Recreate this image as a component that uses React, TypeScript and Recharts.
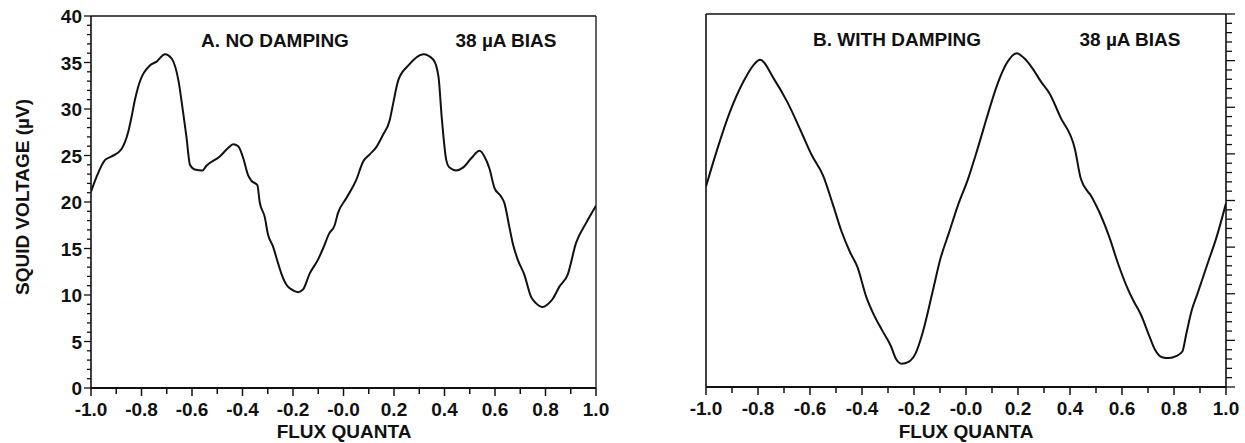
import React from 'react';
import { LineChart, Line, XAxis, YAxis, ReferenceLine } from 'recharts';

// ---- tick definitions ----
const xTicks = [-1.0, -0.9, -0.8, -0.7, -0.6, -0.5, -0.4, -0.3, -0.2, -0.1, 0.0, 0.1, 0.2, 0.3, 0.4, 0.5, 0.6, 0.7, 0.8, 0.9, 1.0];
const xTickLabels = ['-1.0', '-0.8', '-0.6', '-0.4', '-0.2', '-0.0', '0.2', '0.4', '0.6', '0.8', '1.0'];
const yTicks = Array.from({ length: 41 }, (_, i) => i);
const yTickLabels = ['0', '5', '10', '15', '20', '25', '30', '35', '40'];

// ---- panel A: no damping ----
const leftFlux = [
  -1.0, -0.978, -0.945, -0.918, -0.879, -0.852, -0.839, -0.826, -0.813, -0.766, -0.74, -0.707, -0.68, -0.654,
  -0.635, -0.622, -0.608, -0.589, -0.558, -0.543, -0.49, -0.457, -0.437, -0.417, -0.397, -0.378, -0.365, -0.341,
  -0.332, -0.312, -0.299, -0.279, -0.259, -0.246, -0.226, -0.206, -0.18, -0.16, -0.134, -0.101, -0.081, -0.057,
  -0.035, -0.022, 0.011, 0.051, 0.077, 0.103, 0.13, 0.156, 0.183, 0.196, 0.217, 0.257, 0.316, 0.356, 0.376,
  0.389, 0.396, 0.407, 0.42, 0.446, 0.473, 0.506, 0.539, 0.558, 0.578, 0.598, 0.624, 0.637, 0.657, 0.67, 0.69,
  0.716, 0.743, 0.763, 0.789, 0.809, 0.829, 0.855, 0.888, 0.921, 0.96, 1.0,
];
const leftVoltage = [
  21.1, 22.7, 24.5, 24.9, 25.7, 27.6, 29.2, 31.0, 32.4, 34.7, 35.1, 35.9, 35.4, 33.1,
  29.6, 27.0, 24.0, 23.5, 23.4, 23.9, 24.9, 25.8, 26.2, 26.0, 24.7, 22.9, 22.3, 21.8,
  20.0, 18.4, 16.5, 15.2, 13.4, 12.3, 11.1, 10.6, 10.3, 10.6, 12.3, 13.8, 15.0, 16.6,
  17.5, 18.8, 20.4, 22.4, 24.3, 25.1, 25.9, 27.2, 28.8, 30.5, 33.1, 34.7, 35.9, 35.3, 33.5,
  29.1, 27.0, 24.5, 23.7, 23.4, 23.7, 24.7, 25.5, 24.9, 23.6, 21.5, 20.6, 19.9, 17.3, 15.6, 13.8,
  12.2, 9.8, 9.1, 8.7, 9.0, 9.6, 10.9, 12.2, 15.6, 17.7, 19.6,
];

// ---- panel B: with damping ----
const rightFlux = [
  -1.0, -0.959, -0.908, -0.857, -0.818, -0.792, -0.74, -0.688, -0.628, -0.594, -0.55,
  -0.51, -0.479, -0.445, -0.418, -0.384, -0.357, -0.323, -0.289, -0.269, -0.248, -0.221, -0.194, -0.167, -0.127,
  -0.1, -0.066, -0.032, 0.009, 0.043, 0.077, 0.12, 0.154, 0.195, 0.222, 0.255, 0.287, 0.323, 0.362, 0.419,
  0.442, 0.483, 0.517, 0.551, 0.584, 0.618, 0.645, 0.672, 0.706, 0.727, 0.754, 0.781, 0.808, 0.832, 0.848,
  0.869, 0.889, 0.93, 0.964, 1.0,
];
const rightVoltage = [
  21.5, 25.3, 29.5, 32.7, 34.5, 35.1, 33.1, 30.6, 27.0, 24.9, 22.7,
  19.4, 16.7, 14.4, 12.9, 9.7, 7.9, 6.1, 4.4, 3.0, 2.5, 2.7, 3.6, 5.8, 10.4,
  13.6, 16.5, 19.4, 22.4, 25.4, 28.6, 32.4, 34.6, 35.8, 35.3, 34.2, 32.8, 31.4, 29.0, 25.5,
  22.3, 20.4, 18.5, 16.1, 13.3, 10.8, 9.2, 7.8, 5.4, 4.0, 3.2, 3.1, 3.3, 3.8, 5.8,
  8.3, 9.9, 13.3, 16.1, 19.7,
];

const leftData = leftFlux.map((f, i) => ({ flux: f, v: leftVoltage[i] }));
const rightData = rightFlux.map((f, i) => ({ flux: f, v: rightVoltage[i] }));

const INK = '#111';
const FONT = '"Liberation Sans", Arial, Helvetica, sans-serif';

const XTick = (props: any) => {
  const { x, y, index } = props;
  const major = index % 2 === 0;
  return (
    <g>
      <line x1={x} x2={x} y1={y} y2={y + (major ? 8 : 6)} stroke={INK} strokeWidth={1.5} />
      {major && (
        <text x={x} y={y + 28} textAnchor="middle" fontFamily={FONT} fontWeight="bold" fontSize={19} fill={INK}>
          {xTickLabels[index / 2]}
        </text>
      )}
    </g>
  );
};

const YTickLeft = (props: any) => {
  const { x, y, payload } = props;
  const v = payload.value;
  const major = v % 5 === 0;
  return (
    <g>
      <line x1={x} x2={x - (major ? 7 : 4)} y1={y} y2={y} stroke={INK} strokeWidth={1.3} />
      {major && (
        <text x={x - 9} y={y + 7} textAnchor="end" fontFamily={FONT} fontWeight="bold" fontSize={19} fill={INK}>
          {yTickLabels[v / 5]}
        </text>
      )}
    </g>
  );
};

const YTickRight = (props: any) => {
  const { x, y, payload } = props;
  const major = payload.value % 5 === 0;
  return <line x1={x} x2={x + (major ? 9 : 6)} y1={y} y2={y} stroke={INK} strokeWidth={1.3} />;
};

const textStyle: React.CSSProperties = {
  position: 'absolute',
  fontFamily: FONT,
  fontWeight: 'bold',
  fontSize: 19,
  color: INK,
  whiteSpace: 'nowrap',
  lineHeight: 1,
  transform: 'translate(-50%, -50%)',
};

export default function App() {
  return (
    <div style={{ position: 'absolute', left: 0, top: 0, width: 1245, height: 443, background: '#fff' }}>
      <div style={{ position: 'absolute', left: 0, top: 0 }}>
        <LineChart width={620} height={443} data={leftData} margin={{ top: 16, right: 24, left: 0, bottom: 0 }}>
          <XAxis
            dataKey="flux"
            type="number"
            domain={[-1, 1]}
            ticks={xTicks}
            interval={0}
            tickSize={0}
            tickMargin={0}
            tickLine={false}
            axisLine={{ stroke: INK, strokeWidth: 2 }}
            tick={XTick}
            height={55}
            allowDataOverflow
          />
          <YAxis
            type="number"
            domain={[0, 40]}
            ticks={yTicks}
            interval={0}
            tickSize={0}
            tickMargin={0}
            tickLine={false}
            axisLine={{ stroke: INK, strokeWidth: 1.6 }}
            tick={YTickLeft}
            width={91}
            allowDataOverflow
          />
          <ReferenceLine y={40} stroke={INK} strokeWidth={1.3} />
          <ReferenceLine x={1} stroke={INK} strokeWidth={1.3} />
          <Line type="monotone" dataKey="v" stroke={INK} strokeWidth={2} dot={false} isAnimationActive={false} />
        </LineChart>
      </div>
      <div style={{ position: 'absolute', left: 620, top: 0 }}>
        <LineChart width={625} height={443} data={rightData} margin={{ top: 14, right: 0, left: 86, bottom: 0 }}>
          <XAxis
            dataKey="flux"
            type="number"
            domain={[-1, 1]}
            ticks={xTicks}
            interval={0}
            tickSize={0}
            tickMargin={0}
            tickLine={false}
            axisLine={{ stroke: INK, strokeWidth: 2 }}
            tick={XTick}
            height={56}
            allowDataOverflow
          />
          <YAxis
            orientation="right"
            type="number"
            domain={[0, 40]}
            ticks={yTicks}
            interval={0}
            tickSize={0}
            tickMargin={0}
            tickLine={false}
            axisLine={{ stroke: INK, strokeWidth: 1.6 }}
            tick={YTickRight}
            width={19}
            allowDataOverflow
          />
          <ReferenceLine y={40} stroke={INK} strokeWidth={1.3} />
          <ReferenceLine x={-1} stroke={INK} strokeWidth={1.6} />
          <Line type="monotone" dataKey="v" stroke={INK} strokeWidth={2} dot={false} isAnimationActive={false} />
        </LineChart>
      </div>
      <div style={{ ...textStyle, left: 22, top: 197, transform: 'translate(-50%, -50%) rotate(-90deg)' }}>
        SQUID VOLTAGE (µV)
      </div>
      <div style={{ ...textStyle, left: 344, top: 431 }}>FLUX QUANTA</div>
      <div style={{ ...textStyle, left: 966, top: 431 }}>FLUX QUANTA</div>
      <div style={{ ...textStyle, left: 275, top: 40 }}>A. NO DAMPING</div>
      <div style={{ ...textStyle, left: 506, top: 40 }}>38 µA BIAS</div>
      <div style={{ ...textStyle, left: 897, top: 39 }}>B. WITH DAMPING</div>
      <div style={{ ...textStyle, left: 1130, top: 39 }}>38 µA BIAS</div>
    </div>
  );
}
